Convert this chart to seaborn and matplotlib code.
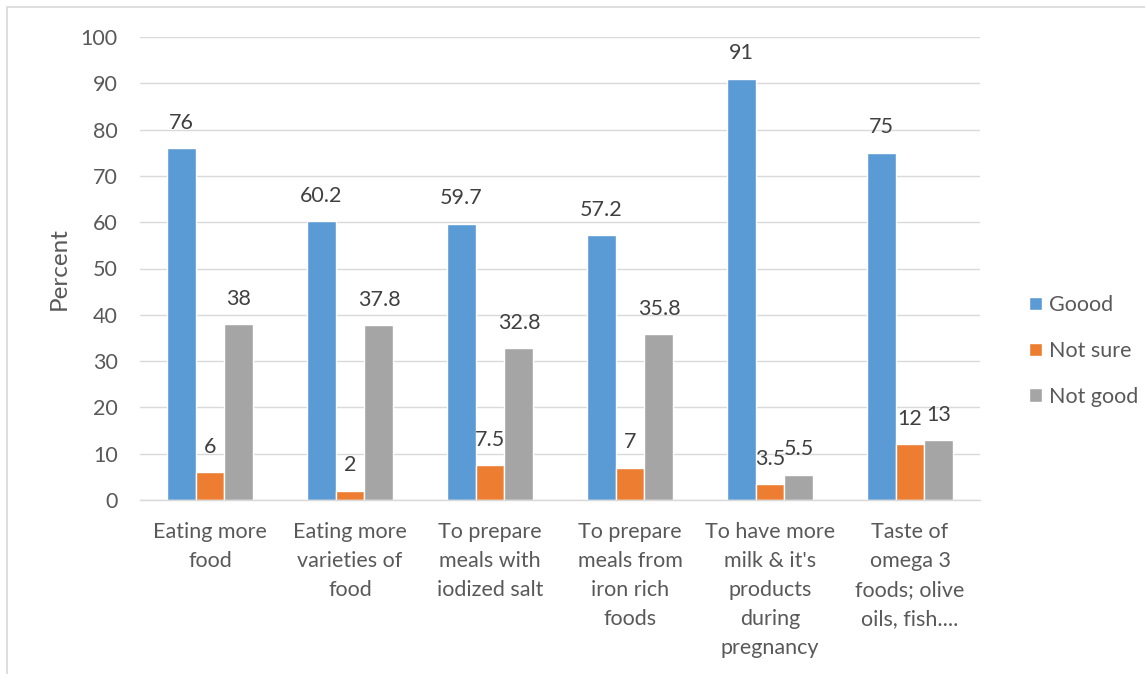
import matplotlib
matplotlib.use("Agg")
import matplotlib.pyplot as plt
import seaborn as sns
import pandas as pd
from matplotlib.patches import Patch, Rectangle

categories = ["Eating more\nfood", "Eating more\nvarieties of\nfood",
              "To prepare\nmeals with\niodized salt", "To prepare\nmeals from\niron rich\nfoods",
              "To have more\nmilk & it's\nproducts\nduring\npregnancy",
              "Taste of\nomega 3\nfoods; olive\noils, fish...."]
series = ["Goood", "Not sure", "Not good"]
goood = [76, 60.2, 59.7, 57.2, 91, 75]
not_sure = [6, 2, 7.5, 7, 3.5, 12]
not_good = [38, 37.8, 32.8, 35.8, 5.5, 13]
colors = ["#5B9BD5", "#ED7D31", "#A5A5A5"]

rows = []
for s, vals in zip(series, [goood, not_sure, not_good]):
    for c, v in zip(categories, vals):
        rows.append({"cat": c, "series": s, "value": v})
df = pd.DataFrame(rows)

sns.set_theme(style="white")
plt.rcParams['font.family'] = ['Lato', 'DejaVu Sans']
txt = "#595959"
fs = 15.5

fig = plt.figure(figsize=(11.45, 6.74), dpi=100)
ax = fig.add_axes([140/1145, 1-500/674, 840/1145, 463/674])
sns.barplot(data=df, x="cat", y="value", hue="series", palette=colors,
            width=0.62, gap=0, ax=ax, legend=False, saturation=1, errorbar=None)

for cont in ax.containers:
    labels = [f"{v:g}" for v in cont.datavalues]
    ax.bar_label(cont, labels=labels, padding=11, fontsize=fs, color="#404040")

ax.set_ylim(0, 100)
ax.set_xlim(-0.5, 5.5)
ax.set_yticks(range(0, 101, 10))
ax.yaxis.grid(True, color="#D9D9D9", linewidth=1)
ax.set_axisbelow(True)
for sp in ["top", "right", "left"]:
    ax.spines[sp].set_visible(False)
ax.spines["bottom"].set_color("#D9D9D9")
ax.spines["bottom"].set_linewidth(1)
ax.tick_params(axis="both", length=0, labelsize=fs, colors=txt)
ax.tick_params(axis="y", pad=16)
ax.tick_params(axis="x", pad=16)
for t in ax.get_xticklabels():
    t.set_linespacing(1.56)
ax.set_xlabel("")
ax.set_ylabel("Percent", fontsize=17.5, color=txt, labelpad=8)

handles = [Patch(facecolor=c, label=s) for c, s in zip(colors, series)]
fig.legend(handles=handles, loc="center left", bbox_to_anchor=(1029/1145, 1-351/674),
           frameon=False, fontsize=fs, labelcolor=txt, handlelength=0.6, handleheight=0.6,
           handletextpad=0.35, labelspacing=1.2, borderpad=0, borderaxespad=0)

fig.patches.append(Rectangle((7/1145, -0.1), 1.2, 1-7/674+0.1, transform=fig.transFigure,
                             fill=False, edgecolor="#D9D9D9", linewidth=1.2))

fig.savefig("out.png", dpi=100)
